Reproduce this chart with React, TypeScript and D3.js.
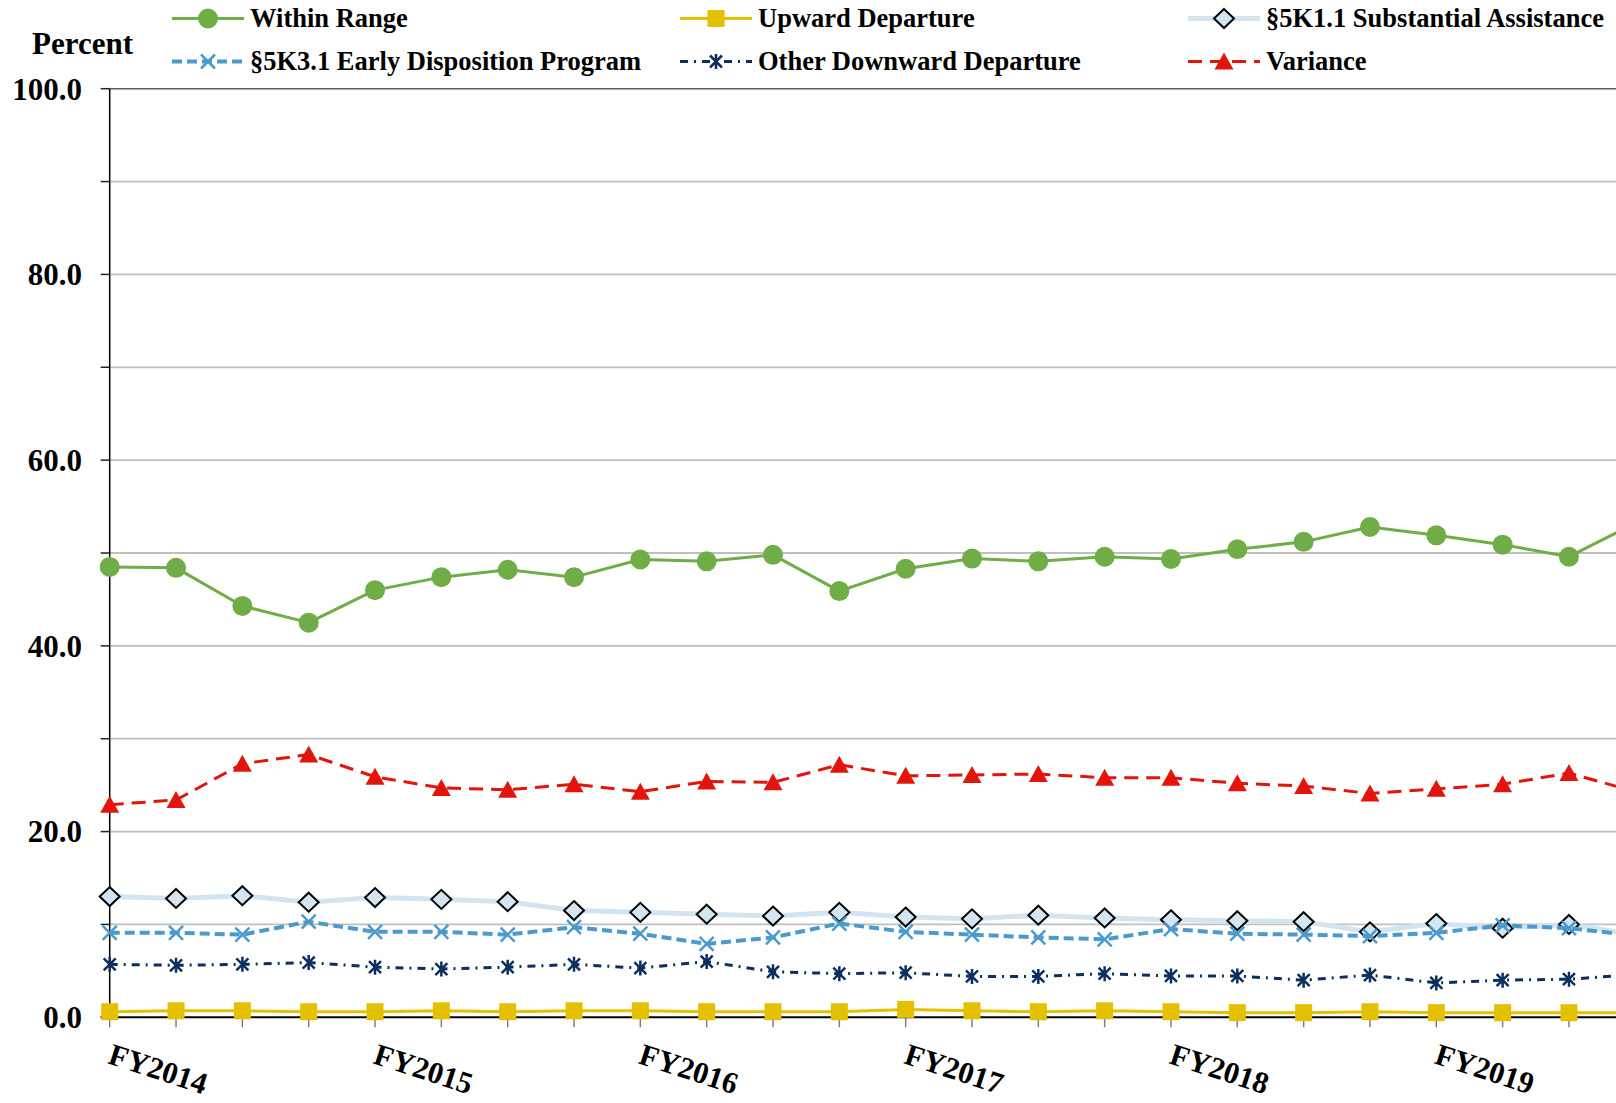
import React from "react";
import * as d3 from "d3";

const quarterCount = 24;
const yearLabels = ["FY2014", "FY2015", "FY2016", "FY2017", "FY2018", "FY2019"];
const yTickLabels = [0, 20, 40, 60, 80, 100];
const yGridValues = [10, 20, 30, 40, 50, 60, 70, 80, 90];

const withinRange = [48.5, 48.4, 44.3, 42.5, 46.0, 47.4, 48.2, 47.4, 49.3, 49.1, 49.8, 45.9, 48.3, 49.4, 49.1, 49.6, 49.35, 50.4, 51.2, 52.8, 51.9, 50.9, 49.6, 53.2];
const upwardDeparture = [0.6, 0.7, 0.7, 0.6, 0.6, 0.7, 0.6, 0.7, 0.7, 0.6, 0.6, 0.6, 0.85, 0.7, 0.6, 0.7, 0.6, 0.5, 0.5, 0.6, 0.5, 0.5, 0.5, 0.5];
const substantialAssistance = [13.0, 12.8, 13.1, 12.4, 12.9, 12.7, 12.45, 11.5, 11.3, 11.1, 10.9, 11.3, 10.8, 10.6, 11.0, 10.7, 10.5, 10.4, 10.3, 9.2, 10.1, 9.6, 10.0, 8.9];
const earlyDisposition = [9.1, 9.1, 8.9, 10.3, 9.2, 9.2, 8.9, 9.7, 9.0, 7.9, 8.6, 10.1, 9.2, 8.9, 8.6, 8.4, 9.5, 9.0, 8.9, 8.75, 9.1, 9.9, 9.6, 8.8];
const otherDownward = [5.7, 5.6, 5.7, 5.9, 5.4, 5.2, 5.4, 5.7, 5.3, 6.0, 4.9, 4.7, 4.8, 4.4, 4.4, 4.7, 4.45, 4.45, 4.0, 4.55, 3.7, 4.0, 4.1, 4.6];
const variance = [22.9, 23.4, 27.3, 28.3, 25.9, 24.7, 24.5, 25.1, 24.3, 25.4, 25.3, 27.2, 26.0, 26.1, 26.2, 25.8, 25.8, 25.2, 24.9, 24.1, 24.6, 25.1, 26.3, 24.3];

type MarkerKind = "circle" | "square" | "diamond" | "x" | "asterisk" | "triangle";

const seriesList = [
  { name: "Within Range", values: withinRange, color: "#70AD47", width: 3, dash: "", marker: "circle" as MarkerKind },
  { name: "Upward Departure", values: upwardDeparture, color: "#E3C000", width: 3, dash: "", marker: "square" as MarkerKind },
  { name: "§5K1.1 Substantial Assistance", values: substantialAssistance, color: "#D2E4F1", width: 5, dash: "", marker: "diamond" as MarkerKind },
  { name: "§5K3.1 Early Disposition Program", values: earlyDisposition, color: "#4A9BCC", width: 4, dash: "10,5", marker: "x" as MarkerKind },
  { name: "Other Downward Departure", values: otherDownward, color: "#0D2F5F", width: 3, dash: "8,6,2,6", marker: "asterisk" as MarkerKind },
  { name: "Variance", values: variance, color: "#E3140C", width: 3, dash: "14,8", marker: "triangle" as MarkerKind },
];

const FONT = "'Liberation Serif', 'Times New Roman', serif";

function Marker({ kind, x, y, color }: { kind: MarkerKind; x: number; y: number; color: string }) {
  switch (kind) {
    case "circle":
      return <circle cx={x} cy={y} r={10} fill={color} />;
    case "square":
      return <rect x={x - 8.5} y={y - 8.5} width={17} height={17} fill={color} />;
    case "diamond":
      return (
        <path
          d={`M${x},${y - 9.5}L${x + 10},${y}L${x},${y + 9.5}L${x - 10},${y}Z`}
          fill="#D3E5F1"
          stroke="#000"
          strokeWidth={2}
        />
      );
    case "x":
      return (
        <path
          d={`M${x - 7},${y - 7}L${x + 7},${y + 7}M${x - 7},${y + 7}L${x + 7},${y - 7}`}
          stroke={color}
          strokeWidth={2.5}
          fill="none"
        />
      );
    case "asterisk":
      return (
        <path
          d={`M${x - 6},${y - 6}L${x + 6},${y + 6}M${x - 6},${y + 6}L${x + 6},${y - 6}M${x},${y - 7.5}L${x},${y + 7.5}`}
          stroke={color}
          strokeWidth={2.5}
          fill="none"
        />
      );
    case "triangle":
      return <path d={`M${x},${y - 9}L${x + 9.5},${y + 8}L${x - 9.5},${y + 8}Z`} fill={color} />;
  }
  return null;
}

export default function App() {
  const width = 1616;
  const height = 1103;
  const xAxisLeft = 109.7;
  const step = 66.33;
  const x = d3.scaleLinear().domain([0, quarterCount - 1]).range([xAxisLeft, xAxisLeft + step * (quarterCount - 1)]);
  const y = d3.scaleLinear().domain([0, 100]).range([1017.3, 88.7]);
  const idx = d3.range(quarterCount);

  const line = d3
    .line<number>()
    .x((_, i) => x(i))
    .y((d) => y(d));

  const legendCols = [172, 680, 1188];
  const legendRows = [18.5, 61.5];
  const legendLineLen = 72;

  return (
    <svg
      width={width}
      height={height}
      style={{ position: "absolute", left: 0, top: 0, display: "block", background: "#fff" }}
      fontFamily={FONT}
      fontWeight="bold"
    >
      <rect x={0} y={0} width={width} height={height} fill="#fff" />
      {/* gridlines */}
      {yGridValues.map((v) => (
        <line key={v} x1={xAxisLeft} x2={width} y1={y(v)} y2={y(v)} stroke="#BFBFBF" strokeWidth={1.8} />
      ))}
      <line x1={xAxisLeft} x2={width} y1={y(100)} y2={y(100)} stroke="#595959" strokeWidth={1.6} />
      {/* y ticks */}
      {[0, ...yGridValues, 100].map((v) => (
        <line key={"t" + v} x1={xAxisLeft - 9} x2={xAxisLeft} y1={y(v)} y2={y(v)} stroke="#222" strokeWidth={1.5} />
      ))}
      {/* x ticks */}
      {idx.map((i) => (
        <line key={"xt" + i} x1={x(i)} x2={x(i)} y1={y(0)} y2={y(0) + 10} stroke="#808080" strokeWidth={1.5} />
      ))}
      {/* axes */}
      <line x1={xAxisLeft} x2={xAxisLeft} y1={y(100)} y2={y(0)} stroke="#000" strokeWidth={1.5} />
      <line x1={xAxisLeft - 9} x2={width} y1={y(0)} y2={y(0)} stroke="#000" strokeWidth={2} />
      {/* y labels */}
      {yTickLabels.map((v) => (
        <text key={"yl" + v} x={82} y={y(v)} dy="0.35em" textAnchor="end" fontSize={31} fill="#000">
          {v.toFixed(1)}
        </text>
      ))}
      <text x={32} y={54} fontSize={31} fill="#000">
        Percent
      </text>
      {/* x labels */}
      {yearLabels.map((lab, k) => {
        const px = x(k * 4) - 3;
        const py = 1063;
        return (
          <text key={lab} x={px} y={py} transform={`rotate(18 ${px} ${py})`} fontSize={30.5} fill="#000">
            {lab}
          </text>
        );
      })}
      {/* series lines */}
      {seriesList.map((s) => (
        <g key={s.name}>
          <path
            d={line(s.values) || ""}
            fill="none"
            stroke={s.color}
            strokeWidth={s.width}
            strokeDasharray={s.dash || undefined}
            strokeLinejoin="round"
          />
          {s.values.map((v, i) => (
            <Marker key={i} kind={s.marker} x={x(i)} y={y(v)} color={s.color} />
          ))}
        </g>
      ))}
      {/* legend */}
      {seriesList.map((s, k) => {
        const col = k % 3;
        const row = Math.floor(k / 3);
        const lx = legendCols[col];
        const ly = legendRows[row];
        return (
          <g key={"lg" + s.name}>
            <line
              x1={lx}
              x2={lx + legendLineLen}
              y1={ly}
              y2={ly}
              stroke={s.color}
              strokeWidth={s.width}
              strokeDasharray={s.dash || undefined}
            />
            <Marker kind={s.marker} x={lx + legendLineLen / 2} y={ly} color={s.color} />
            <text x={lx + legendLineLen + 6} y={ly} dy="0.33em" fontSize={26.5} fill="#000">
              {s.name}
            </text>
          </g>
        );
      })}
    </svg>
  );
}
